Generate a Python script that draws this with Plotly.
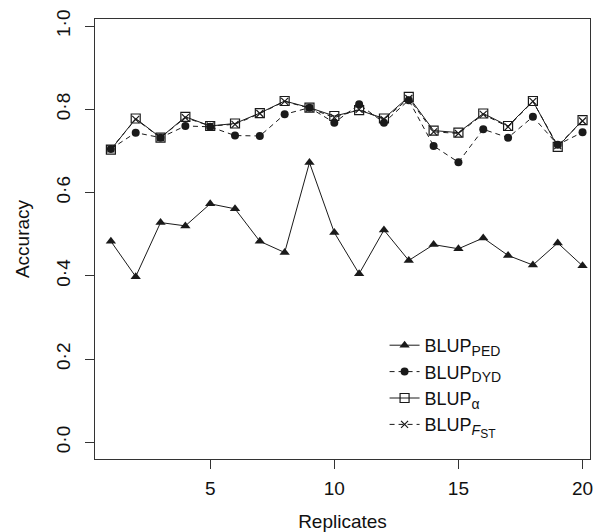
import plotly.graph_objects as go

replicates = list(range(1, 21))
blup_ped = [0.483, 0.398, 0.528, 0.520, 0.573, 0.561, 0.483, 0.456, 0.672, 0.504,
            0.405, 0.510, 0.437, 0.475, 0.465, 0.491, 0.449, 0.426, 0.479, 0.424]
blup_dyd = [0.705, 0.744, 0.732, 0.760, 0.758, 0.737, 0.736, 0.788, 0.804, 0.768,
            0.812, 0.768, 0.822, 0.712, 0.673, 0.752, 0.732, 0.782, 0.715, 0.745]
blup_alpha = [0.703, 0.778, 0.732, 0.782, 0.760, 0.766, 0.791, 0.820, 0.804, 0.784,
              0.798, 0.778, 0.830, 0.749, 0.744, 0.790, 0.760, 0.820, 0.710, 0.774]
blup_fst = [0.705, 0.776, 0.732, 0.780, 0.760, 0.764, 0.790, 0.819, 0.803, 0.780,
            0.800, 0.776, 0.826, 0.746, 0.742, 0.788, 0.758, 0.819, 0.713, 0.772]

ytick_vals = [0.0, 0.2, 0.4, 0.6, 0.8, 1.0]
ytick_text = ["0·0", "0·2", "0·4", "0·6", "0·8", "1·0"]
xtick_vals = [5, 10, 15, 20]

FONT = "Liberation Sans, Arial, Helvetica, sans-serif"
LC = "#1a1a1a"
SUB = '<sub><span style="font-size:14px">%s</span></sub>'

fig = go.Figure()
fig.add_trace(go.Scatter(
    x=replicates, y=blup_ped, mode="lines+markers", name="BLUP" + SUB % "PED",
    line=dict(color=LC, width=1),
    marker=dict(symbol="triangle-up", size=9, color=LC)))
fig.add_trace(go.Scatter(
    x=replicates, y=blup_dyd, mode="lines+markers", name="BLUP" + SUB % "DYD",
    line=dict(color=LC, width=1, dash="5px,4px"),
    marker=dict(symbol="circle", size=8, color=LC)))
fig.add_trace(go.Scatter(
    x=replicates, y=blup_alpha, mode="lines+markers", name="BLUP" + SUB % "α",
    line=dict(color=LC, width=1),
    marker=dict(symbol="square-open", size=9, color=LC, line=dict(width=1.2))))
fig.add_trace(go.Scatter(
    x=replicates, y=blup_fst, mode="lines+markers",
    name='BLUP<sub><span style="font-size:14px"><i>F</i></span><sub><span style="font-size:12px">ST</span></sub></sub>',
    line=dict(color=LC, width=1, dash="5px,4px"),
    marker=dict(symbol="x-thin", size=7, color=LC, line=dict(width=1.2, color=LC))))

axis_common = dict(
    showline=True, linecolor="#333333", linewidth=1, mirror=True,
    ticks="outside", ticklen=9, tickwidth=1, tickcolor="#333333",
    showgrid=False, zeroline=False, automargin=False,
    tickfont=dict(family=FONT, size=19, color="#111111"),
)

fig.update_xaxes(
    range=[0.36, 20.3], tickvals=xtick_vals, ticklabelstandoff=3,
    title=dict(text="Replicates", font=dict(family=FONT, size=19, color="#111111"), standoff=26),
    **axis_common)
fig.update_yaxes(
    range=[-0.04, 1.017], tickvals=ytick_vals, ticktext=ytick_text, tickangle=-90,
    ticklabelstandoff=7,
    title=dict(text="Accuracy", font=dict(family=FONT, size=19, color="#111111"), standoff=18),
    **axis_common)

fig.update_layout(
    width=602, height=532,
    margin=dict(l=95, r=12, t=19, b=73),
    paper_bgcolor="white", plot_bgcolor="white",
    font=dict(family=FONT, color="#111111"),
    legend=dict(
        x=0.585, y=0.300, xanchor="left", yanchor="top",
        bgcolor="rgba(0,0,0,0)", borderwidth=0,
        font=dict(family=FONT, size=18, color="#111111"),
        itemwidth=30, tracegroupgap=0,
    ),
)

fig.write_html("out.html", config={"displayModeBar": False},
               post_script="document.body.style.margin='0px';")
